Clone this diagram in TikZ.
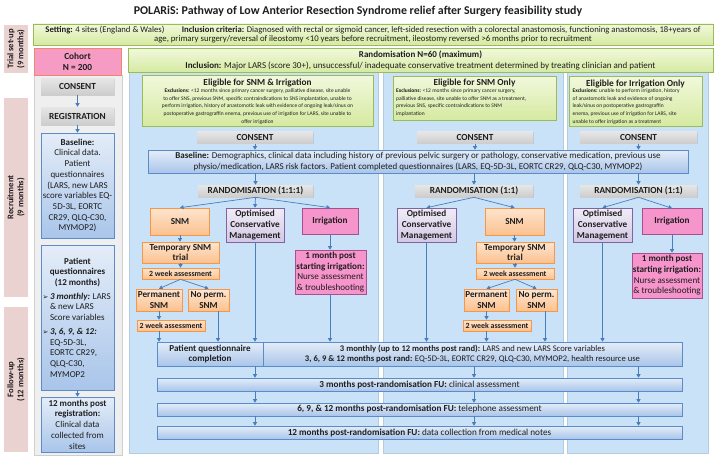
\documentclass[tikz,border=0pt]{standalone}
\usepackage{fontspec}
\setmainfont{Carlito}
\newfontfamily\dejavu{DejaVu Sans}
\usetikzlibrary{shadows,arrows.meta}
\newcommand\fsz[2]{\fontsize{#1}{#2}\selectfont}
\definecolor{arrc}{HTML}{4A7EBB}
\definecolor{panelbg}{HTML}{C9E2F7}
\definecolor{panelbd}{HTML}{B4CCE0}
\definecolor{colbg}{HTML}{EFEFEF}
\definecolor{colbd}{HTML}{CFCFCF}
\definecolor{phasebg}{HTML}{EAD2D0}
\definecolor{greentop}{HTML}{F1F8DC}
\definecolor{greenbot}{HTML}{D5EAA0}
\definecolor{greenbd}{HTML}{9BBB59}
\definecolor{bluetop}{HTML}{E4EDF8}
\definecolor{bluebot}{HTML}{A9C5EA}
\definecolor{bluebd}{HTML}{5B8BC9}
\definecolor{orgtop}{HTML}{FEE5CF}
\definecolor{orgbot}{HTML}{FBC18F}
\definecolor{orgbd}{HTML}{F79646}
\definecolor{purtop}{HTML}{F0ECF6}
\definecolor{purbot}{HTML}{D3C8E4}
\definecolor{purbd}{HTML}{8064A2}
\definecolor{pinkfill}{HTML}{F595CB}
\definecolor{pinkbd}{HTML}{A8508E}
\definecolor{cohortfill}{HTML}{F59BC4}
\definecolor{cohortbd}{HTML}{F2866B}
\definecolor{greytop}{HTML}{E6E6E6}
\definecolor{greybot}{HTML}{CDCDCD}
\definecolor{txt}{HTML}{1E1E1E}
\begin{document}
\begin{tikzpicture}[x=1pt,y=-1pt,
  bx/.style={inner sep=0.5pt, align=center, text=txt, line width=0.6pt,
    drop shadow={shadow xshift=0.8pt, shadow yshift=-0.8pt, opacity=0.25}},
  greenbx/.style={bx, draw=greenbd, top color=greentop, bottom color=greenbot},
  bluebx/.style={bx, draw=bluebd, top color=bluetop, bottom color=bluebot},
  orgbx/.style={bx, draw=orgbd, top color=orgtop, bottom color=orgbot, font=\bfseries\fsz{9.2}{10.4}},
  purbx/.style={bx, draw=purbd, top color=purtop, bottom color=purbot, font=\bfseries\fsz{9.2}{10.8}},
  pinkbx/.style={bx, draw=pinkbd, fill=pinkfill},
  greybx/.style={bx, top color=greytop, bottom color=greybot, font=\bfseries\fsz{9.3}{10}},
  wkbx/.style={orgbx, font=\bfseries\fsz{7.9}{8.5}, inner sep=0pt},
  eltitle/.style={font=\bfseries\fsz{9.3}{11}, text=txt, inner sep=0pt},
  eltext/.style={font=\fsz{5.5}{7.7}, text=txt, inner sep=0pt},
  phase/.style={fill=phasebg, text=txt, font=\bfseries\fsz{8.6}{10}, align=center, inner sep=0pt, rotate=90},
  panel/.style={fill=panelbg, draw=panelbd, line width=0.5pt, inner sep=0pt, anchor=north west},
  arr/.style={draw=arrc, line width=0.7pt, -{Triangle[length=3.5pt,width=4pt]}}]
\useasboundingbox (0,0) rectangle (717,460);
\fill[white] (0,0) rectangle (717,460);

% title
\node[font=\bfseries\fsz{11.9}{14}, text=txt] (title) at (358,11) {POLARiS: Pathway of Low Anterior Resection Syndrome relief after Surgery feasibility study};

% phase labels
\node[phase, minimum width=48, minimum height=24] (ph1) at (16,49) {Trial set-up\\(9 months)};
\node[phase, minimum width=199, minimum height=24] (ph2) at (16,197.5) {Recruitment\\(9 months)};
\node[phase, minimum width=145, minimum height=24] (ph3) at (16,379.5) {Follow-up\\(12 months)};

% backgrounds
\node[panel, fill=colbg, draw=colbd, minimum width=88, minimum height=380] (leftcol) at (34,75) {};
\node[panel, minimum width=249, minimum height=381] (p1) at (129,72) {};
\node[panel, minimum width=180, minimum height=381] (p2) at (383,72) {};
\node[panel, minimum width=141, minimum height=381] (p3) at (567,72) {};

% top boxes
\node[greenbx, minimum width=680, minimum height=21, font=\fsz{8.7}{9.7}] (setting) at (373,34.5)
 {\textbf{Setting:} 4 sites (England \& Wales)\qquad\textbf{Inclusion criteria:} Diagnosed with rectal or sigmoid cancer, left-sided resection with a colorectal anastomosis, functioning anastomosis, 18+years of\\age, primary surgery/reversal of ileostomy <10 years before recruitment, ileostomy reversed >6 months prior to recruitment};
\node[bx, draw=cohortbd, fill=cohortfill, minimum width=87, minimum height=27, font=\bfseries\fsz{9.3}{11}] (cohort) at (77.5,62) {Cohort\\N = 200};
\node[greenbx, minimum width=585, minimum height=24, font=\fsz{9}{10.8}] (rand) at (420.5,60.5)
 {\textbf{Randomisation N=60 (maximum)}\\\textbf{Inclusion:} Major LARS (score 30+), unsuccessful/ inadequate conservative treatment determined by treating clinician and patient};

% left column
\node[greybx, minimum width=73, minimum height=17] (consL) at (77.5,86.5) {CONSENT};
\node[greybx, minimum width=73, minimum height=18] (regL) at (77.5,116) {REGISTRATION};
\node[bluebx, minimum width=73, minimum height=105, font=\fsz{9}{10.7}] (baseL) at (77.5,185.5)
 {\textbf{Baseline:}\\Clinical data.\\Patient\\questionnaires\\(LARS, new LARS\\score variables EQ-\\5D-3L, EORTC\\CR29, QLQ-C30,\\MYMOP2)};
\node[bluebx, minimum width=73, minimum height=145, align=left, font=\fsz{9}{10.7}] (pqL) at (77.5,317.5)
 {\makebox[70pt]{\textbf{Patient}}\\\makebox[70pt]{\textbf{questionnaires}}\\\makebox[70pt]{\textbf{(12 months)}}\\[3pt]
 \makebox[7.5pt][l]{\dejavu\fsz{7}{7}➢}\textbf{\textit{3 monthly:}} LARS\\\hspace*{7.5pt}\& new LARS\\\hspace*{7.5pt}Score variables\\[3pt]
 \makebox[7.5pt][l]{\dejavu\fsz{7}{7}➢}\textbf{\textit{3, 6, 9, \& 12:}}\\\hspace*{7.5pt}EQ-5D-3L,\\\hspace*{7.5pt}EORTC CR29,\\\hspace*{7.5pt}QLQ-C30,\\\hspace*{7.5pt}MYMOP2};
\node[bluebx, minimum width=73, minimum height=55, font=\fsz{9}{10.7}] (tmL) at (77.5,424.5)
 {\textbf{12 months post}\\\textbf{registration:}\\Clinical data\\collected from\\sites};

% eligibility boxes
\node[greenbx, minimum width=231, minimum height=51] (el1) at (257.5,100.5) {};
\node[eltitle] (el1t) at (257.5,83) {Eligible for SNM \& Irrigation};
\node[eltext, align=center, anchor=north] (el1x) at (257.5,88.5)
 {\textbf{Exclusions:} <12 months since primary cancer surgery, palliative disease, site unable\\to offer SNS, previous SNM, specific contraindications to SNS implantation, unable to\\perform irrigation, history of anastomotic leak with evidence of ongoing leak/sinus on\\postoperative gastrograffin enema, previous use of irrigation for LARS, site unable to\\offer irrigation};
\node[greenbx, minimum width=163, minimum height=44] (el2) at (474.5,98) {};
\node[eltitle] (el2t) at (474.5,83) {Eligible for SNM Only};
\node[eltext, align=left, anchor=north west] (el2x) at (396,88.5)
 {\textbf{Exclusions:} <12 months since primary cancer surgery,\\palliative disease, site unable to offer SNM as a treatment,\\previous SNS, specific contraindications to SNM\\implantation};
\node[greenbx, minimum width=133, minimum height=50] (el3) at (635.5,101) {};
\node[eltitle] (el3t) at (635.5,84) {Eligible for Irrigation Only};
\node[eltext, align=left, anchor=north west] (el3x) at (572.5,88.5)
 {\textbf{Exclusions:} unable to perform irrigation, history\\of anastomotic leak and evidence of ongoing\\leak/sinus on postoperative gastrograffin\\enema, previous use of irrigation for LARS, site\\unable to offer irrigation as a treatment};

% consent
\node[greybx, minimum width=116, minimum height=12, inner sep=0pt] (cons1) at (255,137.5) {CONSENT};
\node[greybx, minimum width=116, minimum height=12, inner sep=0pt] (cons2) at (475,137.5) {CONSENT};
\node[greybx, minimum width=117, minimum height=12, inner sep=0pt] (cons3) at (638.5,137.5) {CONSENT};

% baseline wide
\node[bluebx, minimum width=540, minimum height=23, font=\fsz{9.0}{10.4}] (baseW) at (418,161.5)
 {\textbf{Baseline:} Demographics, clinical data including history of previous pelvic surgery or pathology, conservative medication, previous use\\physio/medication, LARS risk factors. Patient completed questionnaires (LARS, EQ-5D-3L, EORTC CR29, QLQ-C30, MYMOP2)};

% randomisation
\node[greybx, minimum width=115, minimum height=12, inner sep=0pt] (r1) at (255.5,191) {RANDOMISATION (1:1:1)};
\node[greybx, minimum width=118, minimum height=12, inner sep=0pt] (r2) at (474,191) {RANDOMISATION (1:1)};
\node[greybx, minimum width=117, minimum height=12, inner sep=0pt] (r3) at (638.5,191) {RANDOMISATION (1:1)};

% panel 1
\node[orgbx, minimum width=59, minimum height=27] (snm1) at (180,221.5) {SNM};
\node[purbx, minimum width=58, minimum height=34] (ocm1) at (255,225) {Optimised\\Conservative\\Management};
\node[pinkbx, minimum width=56, minimum height=26, font=\bfseries\fsz{9.2}{10.5}] (irr1) at (330,221) {Irrigation};
\node[orgbx, minimum width=77, minimum height=21] (tmp1) at (180.5,252.5) {Temporary SNM\\trial};
\node[wkbx, minimum width=77, minimum height=11] (wk1) at (180.5,273.5) {2 week assessment};
\node[orgbx, minimum width=46, minimum height=22] (pm1) at (159,300) {Permanent\\SNM};
\node[orgbx, minimum width=41, minimum height=22] (np1) at (208.5,300) {No perm.\\SNM};
\node[wkbx, minimum width=68, minimum height=11] (wkb1) at (171,325.5) {2 week assessment};
\node[pinkbx, minimum width=71, minimum height=44, font=\fsz{9.1}{10.7}] (mon1) at (330.5,272)
 {\textbf{1 month post}\\\textbf{starting irrigation:}\\Nurse assessment\\\& troubleshooting};

% panel 2
\node[purbx, minimum width=59, minimum height=34] (ocm2) at (426.5,225) {Optimised\\Conservative\\Management};
\node[orgbx, minimum width=59, minimum height=27] (snm2) at (514.5,221.5) {SNM};
\node[orgbx, minimum width=78, minimum height=21] (tmp2) at (515,252.5) {Temporary SNM\\trial};
\node[wkbx, minimum width=78, minimum height=11] (wk2) at (515,273.5) {2 week assessment};
\node[orgbx, minimum width=45, minimum height=22] (pm2) at (486.5,300) {Permanent\\SNM};
\node[orgbx, minimum width=41, minimum height=22] (np2) at (536.5,300) {No perm.\\SNM};
\node[wkbx, minimum width=68, minimum height=11] (wkb2) at (497,325.5) {2 week assessment};

% panel 3
\node[purbx, minimum width=59, minimum height=34] (ocm3) at (602.5,225) {Optimised\\Conservative\\Management};
\node[pinkbx, minimum width=60, minimum height=26, font=\bfseries\fsz{9.2}{10.5}] (irr3) at (672,221.5) {Irrigation};
\node[pinkbx, minimum width=70, minimum height=45, font=\fsz{9.1}{10.7}] (mon3) at (667,275.5)
 {\textbf{1 month post}\\\textbf{starting irrigation:}\\Nurse assessment\\\& troubleshooting};

% follow-up
\node[bluebx, minimum width=106, minimum height=24, font=\bfseries\fsz{9.1}{10.5}] (pqc) at (210,354) {Patient questionnaire\\completion};
\node[bluebx, minimum width=419, minimum height=24, font=\fsz{8.6}{10.2}] (tm) at (472.5,354)
 {\textbf{3 monthly (up to 12 months post rand):} LARS and new LARS Score variables\\\textbf{3, 6, 9 \& 12 months post rand:} EQ-5D-3L, EORTC CR29, QLQ-C30, MYMOP2, health resource use};
\node[bluebx, minimum width=525, minimum height=13, inner sep=0pt, font=\fsz{9.2}{10}] (fu1) at (419.5,384.5) {\textbf{3 months post-randomisation FU:} clinical assessment};
\node[bluebx, minimum width=525, minimum height=13, inner sep=0pt, font=\fsz{9.2}{10}] (fu2) at (419.5,409.5) {\textbf{6, 9, \& 12 months post-randomisation FU:} telephone assessment};
\node[bluebx, minimum width=525, minimum height=13, inner sep=0pt, font=\fsz{9.2}{10}] (fu3) at (419.5,432.5) {\textbf{12 months post-randomisation FU:} data collection from medical notes};

% left arrows
\draw[arr] (consL.south) -- (regL.north);
\draw[arr] (regL.south) -- (baseL.north);
\draw[arr] (pqL.south) -- (tmL.north);

% consent -> baseline -> randomisation
\foreach \c/\r in {cons1/r1, cons2/r2, cons3/r3}{
  \draw[arr] (\c.south) -- (\c.south |- baseW.north);
  \draw[arr] (\r.north |- baseW.south) -- (\r.north);
}

% panel 1 arrows
\draw[arr] (r1.south) -- (snm1.north);
\draw[arr] (r1.south) -- (ocm1.north);
\draw[arr] (r1.south) -- (irr1.north);
\draw[arr] (snm1.south) -- (snm1.south |- tmp1.north);
\draw[arr] (tmp1.south) -- (wk1.north);
\draw[arr] (wk1.south) -- (pm1.north);
\draw[arr] (wk1.south) -- (np1.north);
\draw[arr] (pm1.south) -- (pm1.south |- wkb1.north);
\draw[arr] (pm1.south |- wkb1.south) -- (pm1.south |- pqc.north);
\draw[arr] ([xshift=9.5pt]np1.south) -- ([xshift=9.5pt]np1.south |- pqc.north);
\draw[arr] (ocm1.south) -- (ocm1.south |- pqc.north);
\draw[arr] (irr1.south) -- (irr1.south |- mon1.north);
\draw[arr] (mon1.south -| irr1.south) -- (irr1.south |- tm.north);

% panel 2 arrows
\draw[arr] (r2.south) -- (ocm2.north);
\draw[arr] (r2.south) -- (snm2.north);
\draw[arr] (snm2.south) -- (snm2.south |- tmp2.north);
\draw[arr] (tmp2.south) -- (wk2.north);
\draw[arr] (wk2.south) -- (pm2.north);
\draw[arr] (wk2.south) -- (np2.north);
\draw[arr] (pm2.south) -- (pm2.south |- wkb2.north);
\draw[arr] (pm2.south |- wkb2.south) -- (pm2.south |- tm.north);
\draw[arr] ([xshift=8.5pt]np2.south) -- ([xshift=8.5pt]np2.south |- tm.north);
\draw[arr] (ocm2.south) -- (ocm2.south |- tm.north);

% panel 3 arrows
\draw[arr] (r3.south) -- (ocm3.north);
\draw[arr] (r3.south) -- (irr3.north);
\draw[arr] (irr3.south) -- (irr3.south |- mon3.north);
\draw[arr] (ocm3.south) -- (ocm3.south |- tm.north);

% follow-up arrows
\draw[arr] (ocm1.south |- pqc.south) -- (ocm1.south |- fu1.north);
\foreach \x in {r2, r3}{
  \draw[arr] (\x.south |- tm.south) -- (\x.south |- fu1.north);
}
\foreach \x in {ocm1, r2, r3}{
  \draw[arr] (\x.south |- fu1.south) -- (\x.south |- fu2.north);
  \draw[arr] (\x.south |- fu2.south) -- (\x.south |- fu3.north);
}
\end{tikzpicture}
\end{document}
